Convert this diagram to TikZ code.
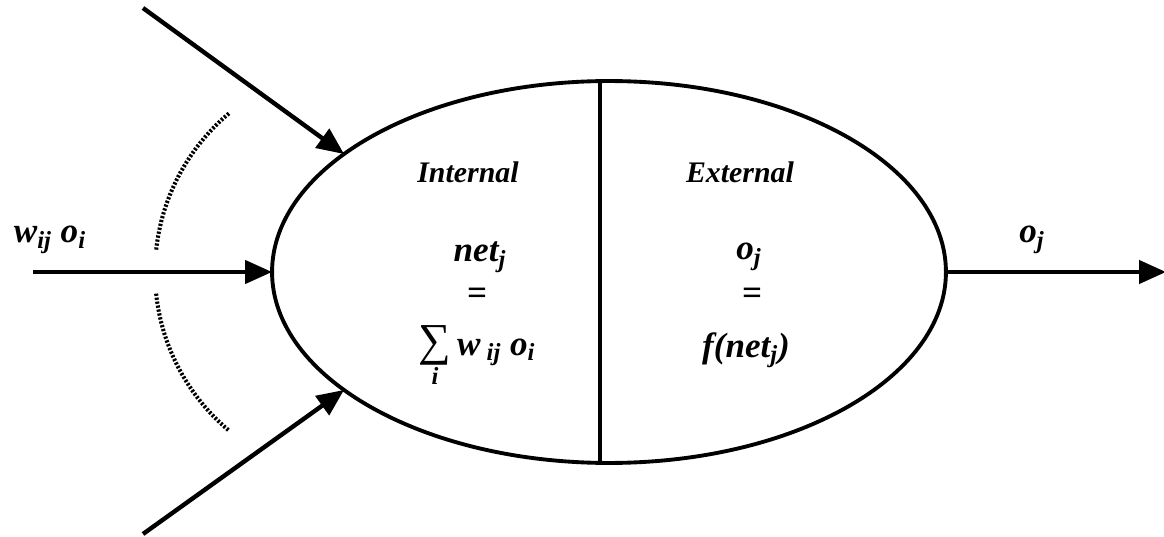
\documentclass[tikz,border=0pt]{standalone}
\usepackage{fontspec}
\setmainfont{Liberation Serif}
\usetikzlibrary{arrows.meta,shapes.geometric}
\newcommand\bigsum{\mathop{\hbox{\fontsize{26}{26}\selectfont\upshape\mdseries ∑}}\limits_{\hbox{\fontsize{14}{14}\selectfont\bfseries\itshape i}}}
\begin{document}
\begin{tikzpicture}[x=0.02cm,y=-0.02cm,
  inarrow/.style={line width=2.5pt,-{Triangle[length=0.54cm,width=0.46cm]}},
  dotarc/.style={line width=2.3pt,dash pattern=on 0.045cm off 0.035cm},
  lbl/.style={font=\fontsize{17}{20}\selectfont\bfseries\itshape},
  mlbl/.style={font=\fontsize{20}{24}\selectfont\bfseries\itshape}]
\useasboundingbox (0,0) rectangle (1164,537);

\node[ellipse,draw,line width=2.2pt,inner sep=0pt,outer sep=0pt,
  minimum width=13.48cm,minimum height=7.64cm] (neuron) at (609,272) {};
\draw[line width=1.8pt] ([xshift=-0.18cm]neuron.north) -- ([xshift=-0.18cm]neuron.south);

\coordinate (in1) at (143,8);
\coordinate (in2) at (33,272);
\coordinate (in3) at (143,534);
\coordinate (out) at (1166,272);
\coordinate (arcc) at (362,272);

\draw[inarrow] (in1) -- (neuron.156);
\draw[inarrow] (in2) -- (neuron.west);
\draw[inarrow] (in3) -- (neuron.204);
\draw[inarrow] (neuron.east) -- (out);

% dotted arcs between the inputs
\draw[dotarc] (arcc) ++(-130:207) arc[start angle=-130,end angle=-174,radius=207];
\draw[dotarc] (arcc) ++(-186:207) arc[start angle=-186,end angle=-230,radius=207];

\node[mlbl] (inlabel) at (50,240) {w\textsubscript{ij} o\textsubscript{i}};
\node[mlbl] (outlabel) at (1032,240) {o\textsubscript{j}};

\node[lbl] (internal) at (468,172) {Internal};
\node[lbl] (external) at (740,172) {External};

\node[mlbl] (netj) at (480,257) {net\textsubscript{j}};
\node[mlbl] (eqa) at (477,296) {=};
\node[mlbl] (sumw) at (477,356) {$\bigsum$\,w\textsubscript{\ ij} o\textsubscript{i}};

\node[mlbl] (oj) at (749,257) {o\textsubscript{j}};
\node[mlbl] (eqb) at (752,296) {=};
\node[mlbl] (fnet) at (746,350) {f(net\textsubscript{j})};
\end{tikzpicture}
\end{document}
